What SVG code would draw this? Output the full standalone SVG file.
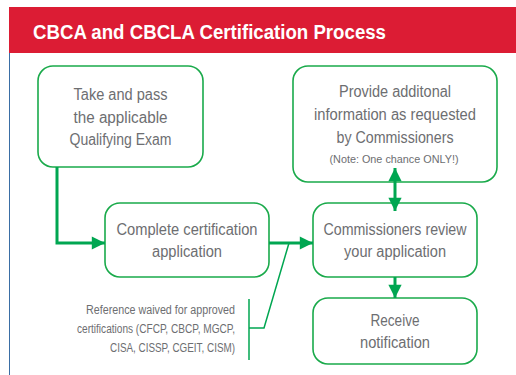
<svg xmlns="http://www.w3.org/2000/svg" width="516" height="375" viewBox="0 0 516 375">
<defs>
<style>
.box{fill:#fff;stroke:#1aaa4b;stroke-width:1.6}
.t{font-family:"Liberation Sans",Arial,sans-serif;font-size:16px;fill:#6d6e71;text-anchor:middle}
.n{font-family:"Liberation Sans",Arial,sans-serif;font-size:12px;fill:#6d6e71}
.thick{fill:none;stroke:#00a651;stroke-width:3}
.thin{fill:none;stroke:#00a651;stroke-width:1.5}
</style>
<marker id="ah" viewBox="0 0 10 10" refX="10" refY="5" markerWidth="5.5" markerHeight="4.4" markerUnits="strokeWidth" orient="auto-start-reverse">
<path d="M0,0 L10,5 L0,10 z" fill="#00a651"/>
</marker>
</defs>
<rect x="0" y="0" width="516" height="375" fill="#fff"/>
<rect x="9" y="7" width="507" height="46" fill="#dc1c34"/>
<line x1="9.5" y1="53" x2="9.5" y2="375" stroke="#3a6ea5" stroke-width="1"/>
<text x="33" y="39" font-family="Liberation Sans,Arial,sans-serif" font-weight="bold" font-size="20" fill="#fff" textLength="353" lengthAdjust="spacingAndGlyphs">CBCA and CBCLA Certification Process</text>

<g id="exam">
<rect class="box" x="38" y="66" width="165" height="101" rx="15"/>
<text class="t" x="120.5" y="100" textLength="94" lengthAdjust="spacingAndGlyphs">Take and pass</text>
<text class="t" x="120.5" y="123" textLength="94" lengthAdjust="spacingAndGlyphs">the applicable</text>
<text class="t" x="120.5" y="145" textLength="102" lengthAdjust="spacingAndGlyphs">Qualifying Exam</text>
</g>

<g id="complete">
<rect class="box" x="105" y="203" width="164" height="74" rx="15"/>
<text class="t" x="187" y="235" textLength="141" lengthAdjust="spacingAndGlyphs">Complete certification</text>
<text class="t" x="187" y="257" textLength="70" lengthAdjust="spacingAndGlyphs">application</text>
</g>

<g id="provide">
<rect class="box" x="293" y="66" width="204" height="116" rx="15"/>
<text class="t" x="395" y="97" textLength="112" lengthAdjust="spacingAndGlyphs">Provide additonal</text>
<text class="t" x="395" y="120" textLength="162" lengthAdjust="spacingAndGlyphs">information as requested</text>
<text class="t" x="395" y="143" textLength="117" lengthAdjust="spacingAndGlyphs">by Commissioners</text>
<text class="t" x="394" y="163" style="font-size:11.5px" textLength="129" lengthAdjust="spacingAndGlyphs">(Note: One chance ONLY!)</text>
</g>

<g id="review">
<rect class="box" x="313" y="203" width="164" height="74" rx="15"/>
<text class="t" x="395" y="235" textLength="143" lengthAdjust="spacingAndGlyphs">Commissioners review</text>
<text class="t" x="395" y="257" textLength="102" lengthAdjust="spacingAndGlyphs">your application</text>
</g>

<g id="receive">
<rect class="box" x="313" y="298" width="164" height="66" rx="15"/>
<text class="t" x="395" y="326" textLength="49" lengthAdjust="spacingAndGlyphs">Receive</text>
<text class="t" x="395" y="348" textLength="70" lengthAdjust="spacingAndGlyphs">notification</text>
</g>

<g id="note">
<text class="n" x="235" y="314" text-anchor="end" textLength="149" lengthAdjust="spacingAndGlyphs">Reference waived for approved</text>
<text class="n" x="235" y="333" text-anchor="end" textLength="158" lengthAdjust="spacingAndGlyphs">certifications (CFCP, CBCP, MGCP,</text>
<text class="n" x="235" y="352" text-anchor="end" textLength="125" lengthAdjust="spacingAndGlyphs">CISA, CISSP, CGEIT, CISM)</text>
</g>

<g id="connectors">
<polyline class="thick" points="57,167 57,243 105,243" marker-end="url(#ah)"/>
<line class="thick" x1="269" y1="243" x2="313" y2="243" marker-end="url(#ah)"/>
<line class="thick" x1="395" y1="277" x2="395" y2="298" marker-end="url(#ah)"/>
<line class="thick" x1="395" y1="168" x2="395" y2="211" marker-start="url(#ah)" marker-end="url(#ah)"/>
<polyline class="thin" points="289,243 264,328 249,328"/>
<line class="thin" x1="249" y1="299" x2="249" y2="360"/>
</g>
</svg>
